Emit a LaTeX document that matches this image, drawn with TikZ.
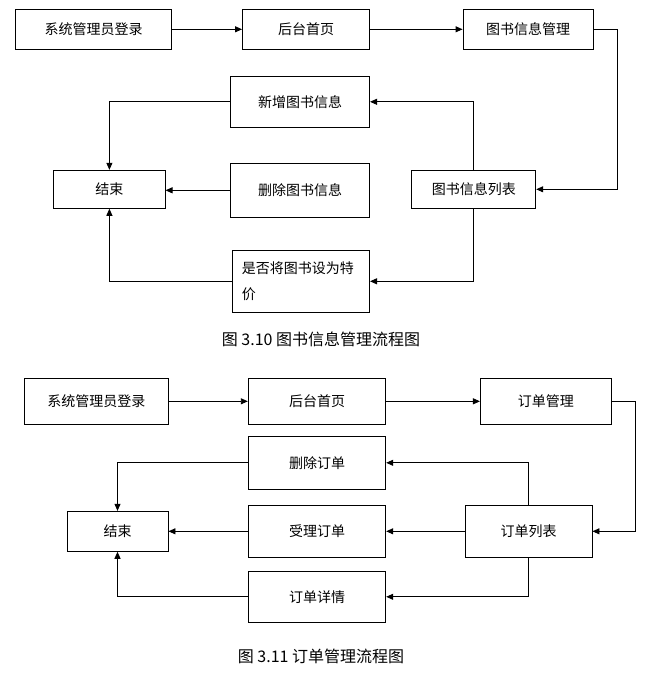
\documentclass[tikz,border=0pt]{standalone}
\usepackage{fontspec}
\setmainfont{Noto Sans CJK SC}
\usetikzlibrary{arrows.meta}
\begin{document}
\begin{tikzpicture}[x=1pt,y=-1pt,
  box/.style={draw=black,line width=0.9pt,rectangle,inner sep=0pt,font=\fontsize{14}{16}\selectfont,anchor=center},
  conn/.style={draw=black,line width=0.9pt},
  arr/.style={conn,-{Triangle[length=7pt,width=6pt]}},
  captext/.style={font=\fontsize{16}{18}\selectfont,inner sep=0pt}]
\fill[white] (0,0) rectangle (648,696);
\useasboundingbox (0,0) rectangle (648,696);
% ---------- Figure 3.10 ----------
\node[box,minimum width=156.3pt,minimum height=40pt] (login1) at (93.5,29.3) {系统管理员登录};
\node[box,minimum width=127pt,minimum height=40pt] (home1) at (306,29.3) {后台首页};
\node[box,minimum width=130pt,minimum height=40pt] (mgmt1) at (528,29.3) {图书信息管理};
\node[box,minimum width=139.2pt,minimum height=51pt] (add1) at (300,101.8) {新增图书信息};
\node[box,minimum width=111.3pt,minimum height=38pt] (end1) at (109.4,189.3) {结束};
\node[box,minimum width=139.2pt,minimum height=54pt] (del1) at (300,190.3) {删除图书信息};
\node[box,minimum width=124pt,minimum height=38pt] (list1) at (473.75,189.3) {图书信息列表};
\node[box,minimum width=137.6pt,minimum height=62pt,text width=118pt,align=left,font=\fontsize{14}{26}\selectfont] (spec1) at (300.8,281.3) {是否将图书设为特\\价};
\draw[arr] (login1) -- (home1);
\draw[arr] (home1) -- (mgmt1);
\draw[arr] (mgmt1.east) -- ++(24,0) |- (list1.east);
\draw[arr] (list1.north) |- (add1.east);
\draw[arr] (add1.west) -| (end1.north);
\draw[arr] (del1.west) -- (del1.west -| end1.east);
\draw[arr] (list1.south) |- (spec1.east);
\draw[arr] (spec1.west) -| (end1.south);
\node[captext] (cap1) at (321,339.3) {图 3.10 图书信息管理流程图};
% ---------- Figure 3.11 ----------
\node[box,minimum width=143.4pt,minimum height=46pt] (login2) at (96.3,401.3) {系统管理员登录};
\node[box,minimum width=137.5pt,minimum height=46pt] (home2) at (317,401.3) {后台首页};
\node[box,minimum width=131pt,minimum height=46pt] (mgmt2) at (545.9,401.3) {订单管理};
\node[box,minimum width=137.5pt,minimum height=53pt] (del2) at (317,462.8) {删除订单};
\node[box,minimum width=101pt,minimum height=40pt] (end2) at (117.5,531.3) {结束};
\node[box,minimum width=137.5pt,minimum height=52pt] (acc2) at (317,531.3) {受理订单};
\node[box,minimum width=126.6pt,minimum height=52pt] (list2) at (528.7,531.3) {订单列表};
\node[box,minimum width=137.5pt,minimum height=51pt] (det2) at (317,596.8) {订单详情};
\draw[arr] (login2) -- (home2);
\draw[arr] (home2) -- (mgmt2);
\draw[arr] (mgmt2.east) -- ++(24,0) |- (list2.east);
\draw[arr] (list2.north) |- (del2.east);
\draw[arr] (del2.west) -| (end2.north);
\draw[arr] (list2.west) -- (acc2.east);
\draw[arr] (acc2.west) -- (end2.east);
\draw[arr] (list2.south) |- (det2.east);
\draw[arr] (det2.west) -| (end2.south);
\node[captext] (cap2) at (321,656) {图 3.11 订单管理流程图};
\end{tikzpicture}
\end{document}
